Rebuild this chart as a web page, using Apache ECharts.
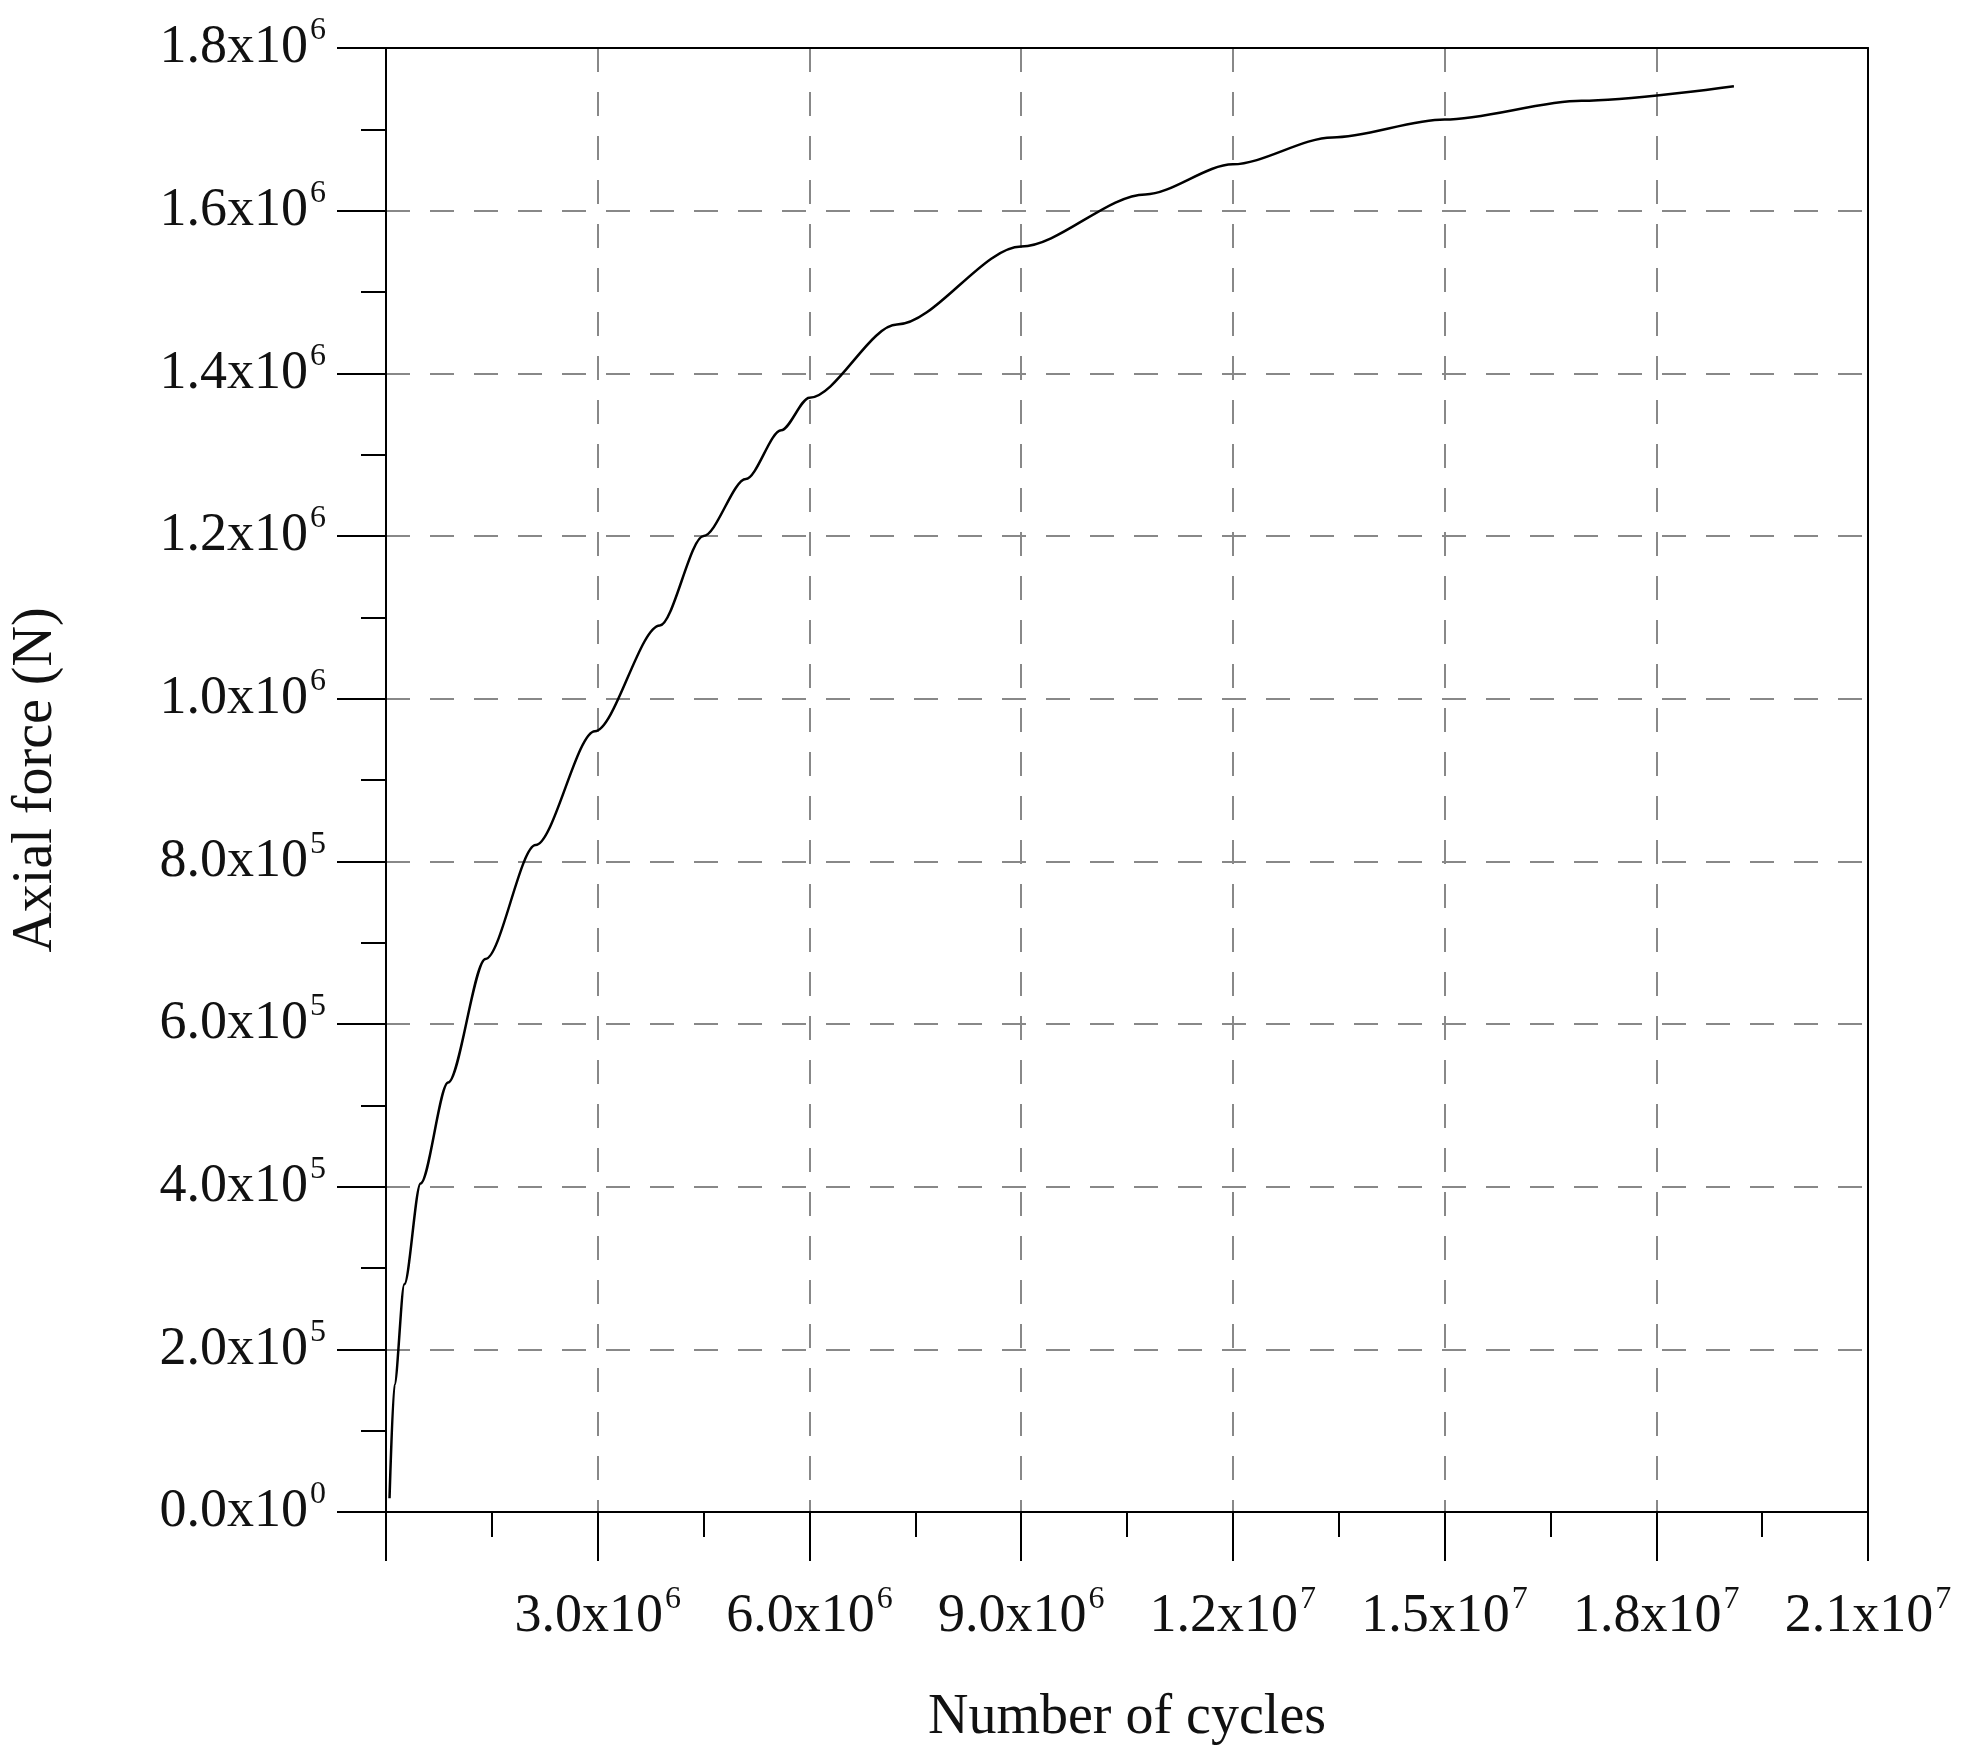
<!DOCTYPE html>
<html><head><meta charset="utf-8">
<script src="https://cdn.jsdelivr.net/npm/echarts@6/dist/echarts.min.js"></script>
<style>html,body{margin:0;padding:0;background:#fff}#c{width:1979px;height:1751px}</style>
</head><body><div id="c"></div>
<script>
const cycles = [5e4,1.2e5,2.6e5,4.9e5,8.8e5,1.41e6,2.12e6,2.96e6,3.88e6,4.5e6,5.1e6,5.6e6,6.0e6,7.24e6,9.0e6,1.076e7,1.2e7,1.341e7,1.5e7,1.694e7,1.91e7];
const force  = [1.7e4,1.56e5,2.8e5,4.04e5,5.28e5,6.8e5,8.2e5,9.6e5,1.09e6,1.2e6,1.27e6,1.33e6,1.37e6,1.46e6,1.556e6,1.62e6,1.657e6,1.69e6,1.712e6,1.735e6,1.753e6];

function sci(v){
  if(v===0) return '{b|0.0x10}{s|0}';
  const e=Math.floor(Math.log10(v)+1e-9);
  return '{b|'+(v/Math.pow(10,e)).toFixed(1)+'x10}{s|'+e+'}';
}
const rich={b:{fontFamily:'Liberation Serif',fontSize:54,color:'#111'},
            s:{fontFamily:'Liberation Serif',fontSize:32,color:'#111',padding:[0,0,34,2]}};
const line={color:'#000',width:2};
const ch=echarts.init(document.getElementById('c'));
ch.setOption({
  animation:false,
  grid:{left:369,right:111,top:48,bottom:235},
  xAxis:[{type:'value',min:0,max:2.1e7,interval:3e6,
    axisLine:{lineStyle:line},
    axisTick:{show:true,length:49,lineStyle:line},
    minorTick:{show:true,splitNumber:2,length:25,lineStyle:line},
    splitLine:{show:true,lineStyle:{color:'#888',type:[24,20],width:2}},
    axisLabel:{margin:72,formatter:v=>v===0?'':sci(v),rich:rich},
    name:'Number of cycles',nameLocation:'middle',nameGap:178,
    nameTextStyle:{fontFamily:'Liberation Serif',fontSize:56,color:'#111'}},
   {type:'value',position:'top',min:0,max:2.1e7,axisLine:{onZero:false,lineStyle:line},
    axisTick:{show:false},axisLabel:{show:false},splitLine:{show:false}}],
  yAxis:[{type:'value',min:0,max:1.8e6,interval:2e5,
    axisLine:{lineStyle:line},
    axisTick:{show:true,length:49,lineStyle:line},
    minorTick:{show:true,splitNumber:2,length:25,lineStyle:line},
    splitLine:{show:true,lineStyle:{color:'#888',type:[24,20],width:2}},
    axisLabel:{margin:60,formatter:sci,rich:rich},
    name:'Axial force (N)',nameLocation:'middle',nameGap:322,
    nameTextStyle:{fontFamily:'Liberation Serif',fontSize:56,color:'#111'}},
   {type:'value',position:'right',min:0,max:1.8e6,axisLine:{show:true,onZero:false,lineStyle:line},
    axisTick:{show:false},axisLabel:{show:false},splitLine:{show:false}}],
  series:[{type:'line',data:cycles.map((x,i)=>[x,force[i]]),smooth:0.3,smoothMonotone:'x',showSymbol:false,
    lineStyle:{color:'#000',width:2.5}}]
});
</script></body></html>
